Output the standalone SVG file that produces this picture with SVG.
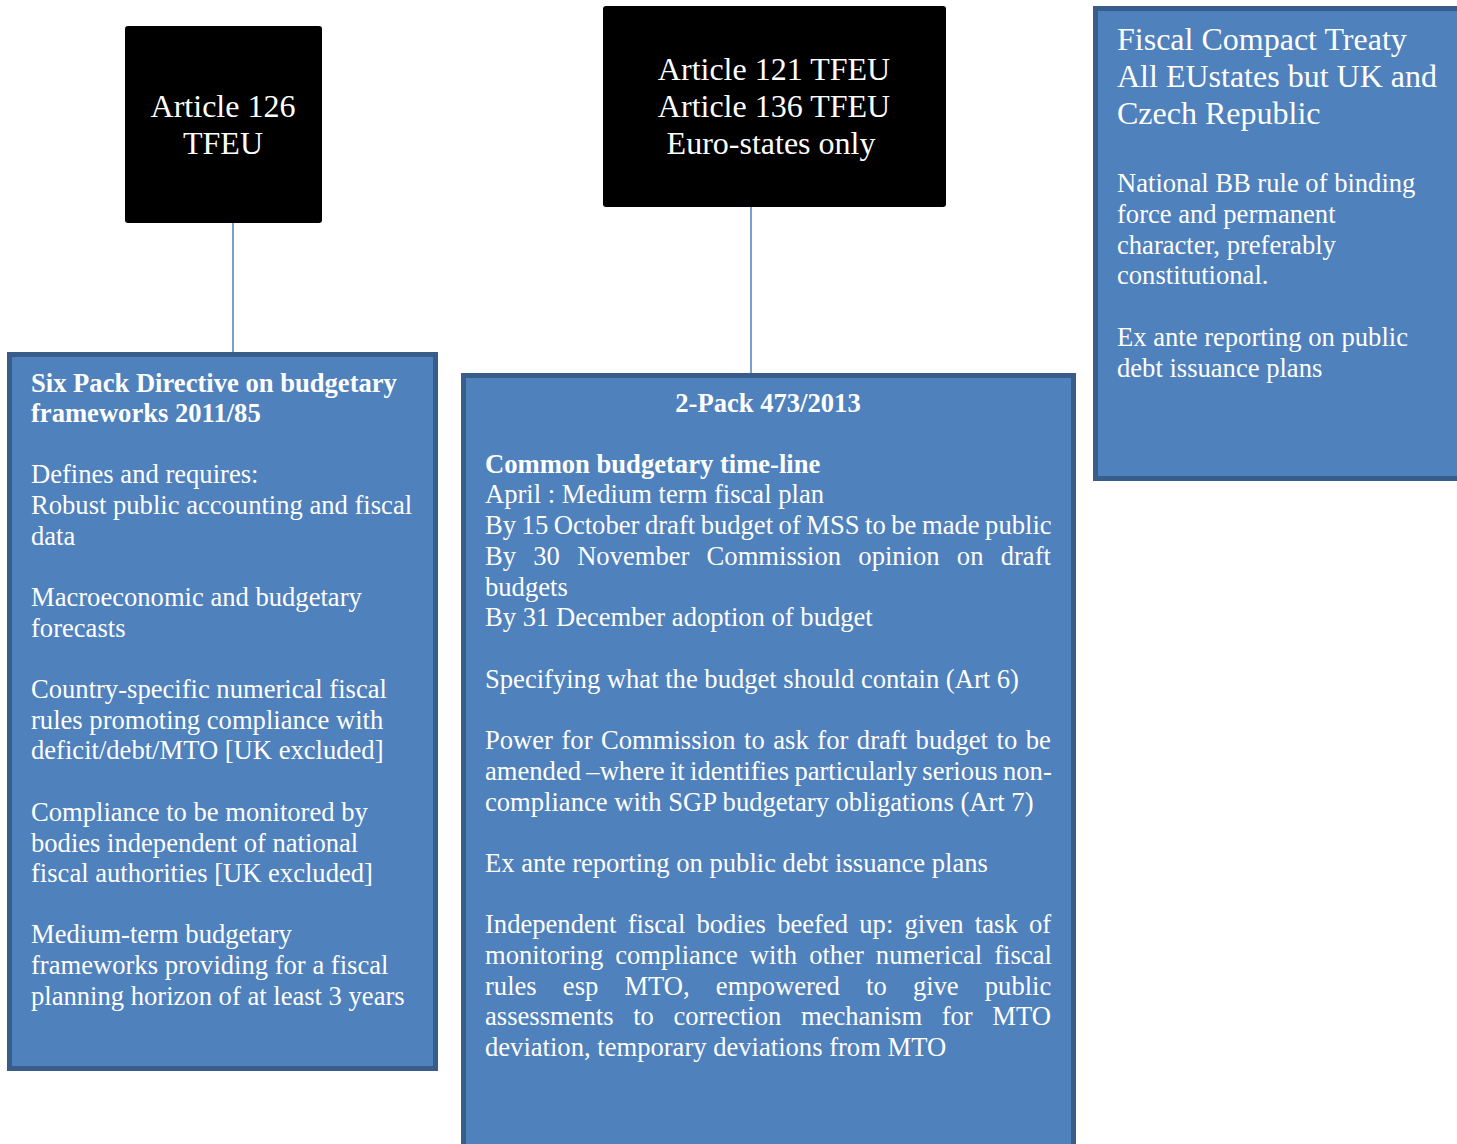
<svg xmlns="http://www.w3.org/2000/svg" width="1457" height="1144" viewBox="0 0 1457 1144">
<style>
.blk{fill:#000;}
.bt{fill:#fff;font-family:"Liberation Serif","Times New Roman",serif;font-size:32px;text-anchor:middle;}
.box{fill:#4f81bd;stroke:#385d8a;stroke-width:5;}
.t{fill:#fff;font-family:"Liberation Serif","Times New Roman",serif;font-size:26.6px;}
.b{font-weight:bold;}
.big{font-size:32px;}
.conn{stroke:#4f81bd;stroke-width:1.5;fill:none;}
</style>
<rect width="1457" height="1144" fill="#fff"/>
<g id="connectors">
<line class="conn" x1="233" y1="213" x2="233" y2="354"/>
<line class="conn" x1="751" y1="205" x2="751" y2="375"/>
</g>
<g id="art126">
<rect class="blk" x="125" y="26" width="197" height="197" rx="3"/>
<text class="bt" x="223" y="117">Article 126</text>
<text class="bt" x="223" y="154">TFEU</text>
</g>
<g id="art121">
<rect class="blk" x="603" y="6" width="343" height="201" rx="3"/>
<text class="bt" x="774" y="80">Article 121 TFEU</text>
<text class="bt" x="774" y="117">Article 136 TFEU</text>
<text class="bt" x="771" y="154">Euro-states only</text>
</g>
<g id="sixpack">
<rect class="box" x="9.5" y="354.5" width="426" height="714"/>
<text class="t b" x="31" y="392">Six Pack Directive on budgetary</text>
<text class="t b" x="31" y="422">frameworks 2011/85</text>
<text class="t" x="31" y="483">Defines and requires:</text>
<text class="t" x="31" y="514">Robust public accounting and fiscal</text>
<text class="t" x="31" y="545">data</text>
<text class="t" x="31" y="606">Macroeconomic and budgetary</text>
<text class="t" x="31" y="637">forecasts</text>
<text class="t" x="31" y="698">Country-specific numerical fiscal</text>
<text class="t" x="31" y="729">rules promoting compliance with</text>
<text class="t" x="31" y="759">deficit/debt/MTO [UK excluded]</text>
<text class="t" x="31" y="821">Compliance to be monitored by</text>
<text class="t" x="31" y="852">bodies independent of national</text>
<text class="t" x="31" y="882">fiscal authorities [UK excluded]</text>
<text class="t" x="31" y="943">Medium-term budgetary</text>
<text class="t" x="31" y="974">frameworks providing for a fiscal</text>
<text class="t" x="31" y="1005">planning horizon of at least 3 years</text>
</g>
<g id="twopack">
<rect class="box" x="463.5" y="375.5" width="610" height="780"/>
<text class="t b" x="768" y="412" text-anchor="middle">2-Pack 473/2013</text>
<text class="t b" x="485" y="473">Common budgetary time-line</text>
<text class="t" x="485" y="503">April : Medium term fiscal plan</text>
<text class="t" x="485" y="534" word-spacing="-1.1">By 15 October draft budget of MSS to be made public</text>
<text class="t" x="485" y="565" word-spacing="10.6">By 30 November Commission opinion on draft</text>
<text class="t" x="485" y="596">budgets</text>
<text class="t" x="485" y="626">By 31 December adoption of budget</text>
<text class="t" x="485" y="688">Specifying what the budget should contain (Art 6)</text>
<text class="t" x="485" y="749" word-spacing="1.9">Power for Commission to ask for draft budget to be</text>
<text class="t" x="485" y="780" word-spacing="-1.3">amended –where it identifies particularly serious non-</text>
<text class="t" x="485" y="811">compliance with SGP budgetary obligations (Art 7)</text>
<text class="t" x="485" y="872">Ex ante reporting on public debt issuance plans</text>
<text class="t" x="485" y="933" word-spacing="4.6">Independent fiscal bodies beefed up: given task of</text>
<text class="t" x="485" y="964" word-spacing="5.4">monitoring compliance with other numerical fiscal</text>
<text class="t" x="485" y="995" word-spacing="19.5">rules esp MTO, empowered to give public</text>
<text class="t" x="485" y="1025" word-spacing="13">assessments to correction mechanism for MTO</text>
<text class="t" x="485" y="1056">deviation, temporary deviations from MTO</text>
</g>
<g id="fiscalcompact">
<rect class="box" x="1095.5" y="8.5" width="380" height="470"/>
<text class="t big" x="1117" y="50">Fiscal Compact Treaty</text>
<text class="t big" x="1117" y="87">All EUstates but UK and</text>
<text class="t big" x="1117" y="124">Czech Republic</text>
<text class="t" x="1117" y="192">National BB rule of binding</text>
<text class="t" x="1117" y="223">force and permanent</text>
<text class="t" x="1117" y="254">character, preferably</text>
<text class="t" x="1117" y="284">constitutional.</text>
<text class="t" x="1117" y="346">Ex ante reporting on public</text>
<text class="t" x="1117" y="377">debt issuance plans</text>
</g>
</svg>
